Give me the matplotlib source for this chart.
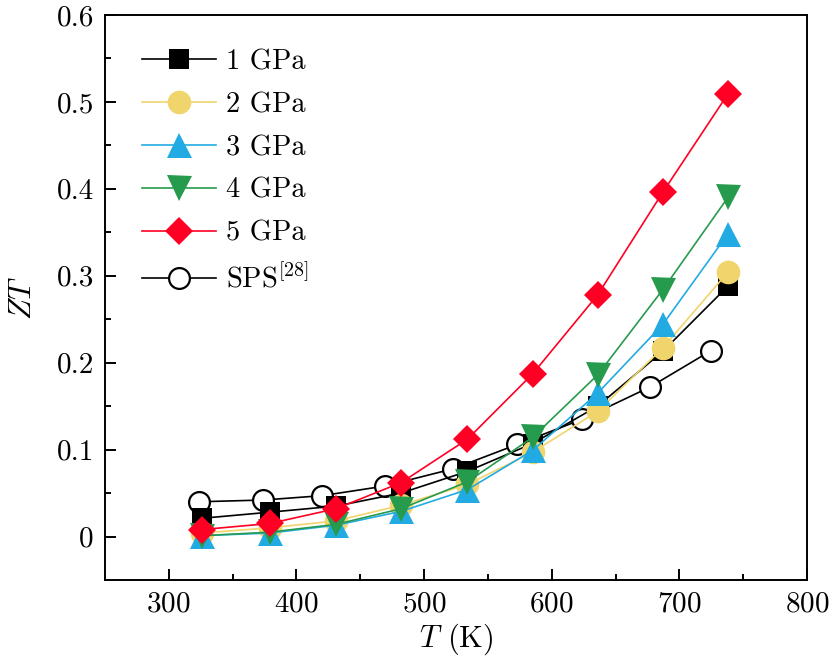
import matplotlib
matplotlib.use("Agg")
import matplotlib.pyplot as plt

plt.rcParams['font.family'] = 'serif'
plt.rcParams['font.serif'] = ['cmr10']
plt.rcParams['mathtext.fontset'] = 'cm'
plt.rcParams['axes.formatter.use_mathtext'] = True
plt.rcParams['axes.unicode_minus'] = False

# temperatures (K)
T_hp = [326, 379, 431, 482, 534, 585, 636, 687, 738]
T_sps = [324, 374, 420, 469, 523, 573, 624, 677, 725]

zt_1gpa = [0.021, 0.028, 0.035, 0.050, 0.075, 0.107, 0.150, 0.213, 0.288]
zt_2gpa = [0.004, 0.010, 0.018, 0.036, 0.060, 0.097, 0.144, 0.217, 0.304]
zt_3gpa = [0.001, 0.004, 0.013, 0.029, 0.054, 0.099, 0.165, 0.244, 0.348]
zt_4gpa = [0.001, 0.005, 0.014, 0.032, 0.063, 0.114, 0.186, 0.284, 0.390]
zt_5gpa = [0.008, 0.015, 0.032, 0.062, 0.112, 0.187, 0.278, 0.396, 0.509]
zt_sps = [0.040, 0.042, 0.047, 0.058, 0.078, 0.106, 0.135, 0.172, 0.214]

fig = plt.figure(figsize=(8.35, 6.64), dpi=100)
ax = fig.add_axes([0.1257, 0.1265, 0.8408, 0.851])

lw = 1.2
ax.plot(T_hp, zt_1gpa, '-s', color='black', lw=lw, ms=14, mew=0, label='1 GPa', zorder=3)
ax.plot(T_hp, zt_2gpa, '-o', color='#F0D46C', lw=lw, ms=17, mew=0, label='2 GPa', zorder=4)
ax.plot(T_hp, zt_3gpa, '-^', color='#22ABE2', lw=lw, ms=18, mew=0, label='3 GPa', zorder=5)
ax.plot(T_hp, zt_4gpa, '-v', color='#269B4E', lw=lw, ms=18, mew=0, label='4 GPa', zorder=5)
ax.plot(T_hp, zt_5gpa, '-D', color='#FF0024', lw=lw, ms=14.5, mew=0, label='5 GPa', zorder=6)
ax.plot(T_sps, zt_sps, '-o', color='black', mfc='white', lw=lw, ms=15, mew=1.6,
        label='SPS$^{[28]}$', zorder=2)

ax.set_xlim(250, 800)
ax.set_ylim(-0.05, 0.6)
ax.set_xticks([300, 400, 500, 600, 700, 800])
ax.set_xticks([350, 450, 550, 650, 750], minor=True)
ax.set_yticks([0, 0.1, 0.2, 0.3, 0.4, 0.5, 0.6])
ax.set_yticks([0.05, 0.15, 0.25, 0.35, 0.45, 0.55], minor=True)
ax.set_yticklabels(['0', '0.1', '0.2', '0.3', '0.4', '0.5', '0.6'])

ax.tick_params(which='both', direction='in', labelsize=21, width=1.4)
ax.tick_params(which='major', length=8, pad=8)
ax.tick_params(which='minor', length=4)
for s in ax.spines.values():
    s.set_linewidth(1.4)

ax.set_xlabel('$T$ (K)', fontsize=22, labelpad=3)
ax.set_ylabel('$ZT$', fontsize=22, labelpad=14)

ax.legend(loc='upper left', frameon=False, fontsize=20.5, handlelength=2.6,
          handletextpad=0.35, labelspacing=0.58, borderaxespad=0.3,
          bbox_to_anchor=(0.025, 0.975))

fig.savefig('out.png', dpi=100)
